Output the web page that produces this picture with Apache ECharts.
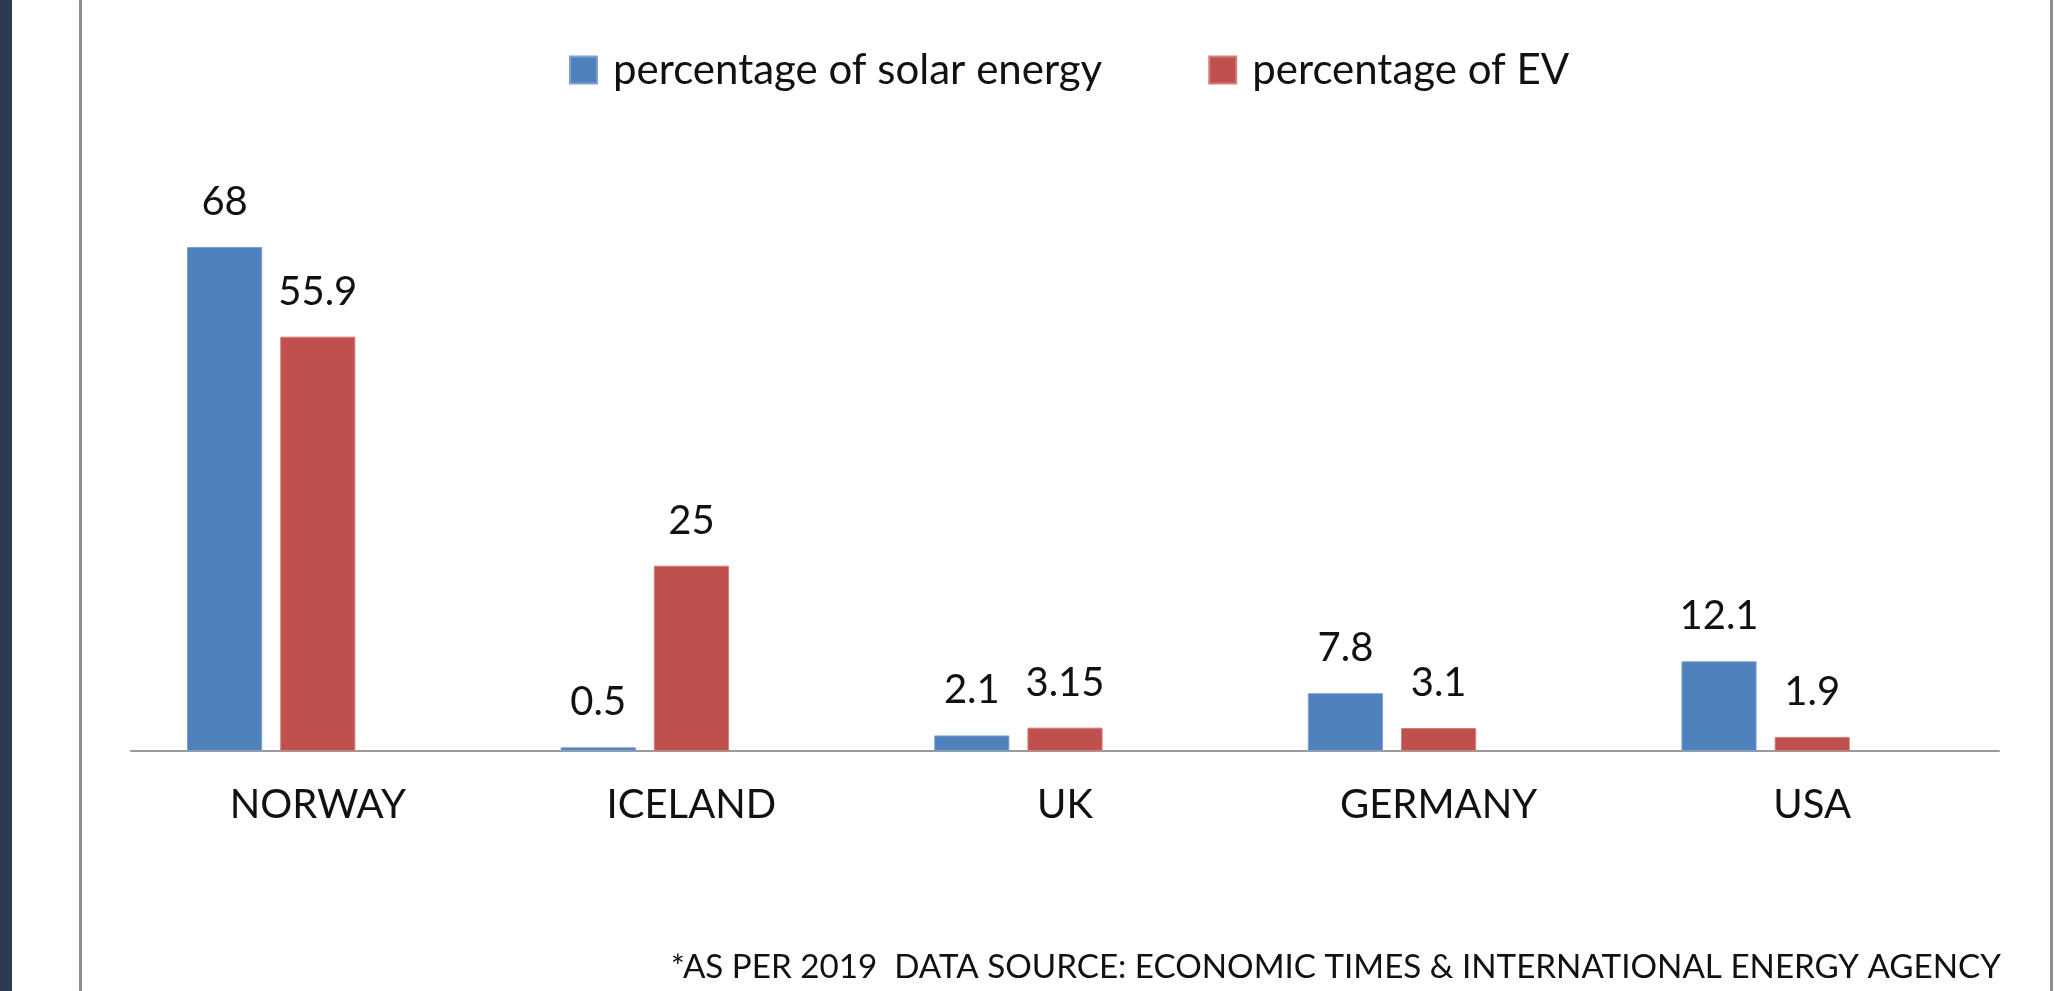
<!DOCTYPE html>
<html>
<head>
<meta charset="utf-8">
<script src="https://cdn.jsdelivr.net/npm/echarts@6/dist/echarts.min.js"></script>
<style>
  html, body { margin: 0; padding: 0; background: #fff; }
  #frame-dark { position: absolute; left: 0; top: 0; width: 12px; height: 991px; background: #2d3b52; }
  #frame-left { position: absolute; left: 79px; top: 0; width: 3px; height: 991px; background: #8e8e8e; }
  #frame-right { position: absolute; left: 2050px; top: 0; width: 3px; height: 991px; background: #8e8e8e; }
  #chart { position: absolute; left: 0; top: 0; width: 2055px; height: 991px; }
</style>
</head>
<body>
<div id="frame-dark"></div>
<div id="frame-left"></div>
<div id="frame-right"></div>
<div id="chart"></div>
<script>
const categories = ['NORWAY', 'ICELAND', 'UK', 'GERMANY', 'USA'];
const solarValues = [68, 0.5, 2.1, 7.8, 12.1];
const evValues = [55.9, 25, 3.15, 3.1, 1.9];
const spacerValues = []; // empty third slot (reserved space in each group, as in the original)
const seriesNames = ['percentage of solar energy', 'percentage of EV'];
const footnote = '*AS PER 2019  DATA SOURCE: ECONOMIC TIMES & INTERNATIONAL ENERGY AGENCY';

const FONT = 'Lato, "Open Sans", sans-serif';
const chart = echarts.init(document.getElementById('chart'), null, { renderer: 'canvas' });

const labelCfg = {
  show: true,
  position: 'top',
  distance: 25,
  color: '#111',
  fontFamily: FONT,
  fontSize: 40,
  lineHeight: 40
};

chart.setOption({
  animation: false,
  backgroundColor: 'transparent',
  legend: {
    data: seriesNames,
    left: 564,
    top: 44,
    icon: 'rect',
    itemWidth: 27,
    itemHeight: 27,
    itemGap: 106,
    textStyle: { fontFamily: FONT, fontSize: 42, color: '#111', padding: [0, 0, 0, 11] }
  },
  grid: { left: 131, right: 56, top: 158, bottom: 240, containLabel: false },
  xAxis: {
    type: 'category',
    data: categories,
    axisLine: { show: true, lineStyle: { color: '#9a9a9a', width: 2 } },
    axisTick: { show: false },
    axisLabel: { color: '#111', fontFamily: FONT, fontSize: 40, lineHeight: 40, margin: 34 },
    splitLine: { show: false }
  },
  yAxis: {
    type: 'value',
    min: 0,
    max: 80,
    show: false,
    splitLine: { show: false }
  },
  series: [
    {
      name: seriesNames[0],
      type: 'bar',
      data: solarValues,
      barGap: '24%',
      barCategoryGap: '30%',
      itemStyle: { color: '#4f81bd', borderColor: '#7ea1cf', borderWidth: 1 },
      label: labelCfg
    },
    {
      name: seriesNames[1],
      type: 'bar',
      data: evValues,
      barGap: '24%',
      barCategoryGap: '30%',
      itemStyle: { color: '#c0504d', borderColor: '#d27f7d', borderWidth: 1 },
      label: labelCfg
    },
    {
      name: 'spacer',
      type: 'bar',
      data: spacerValues,
      barGap: '24%',
      barCategoryGap: '30%',
      itemStyle: { color: 'transparent' },
      silent: true
    }
  ],
  graphic: [
    {
      type: 'text',
      x: 2001,
      y: 967,
      style: {
        text: footnote,
        fill: '#111',
        font: '33.2px ' + FONT,
        textAlign: 'right',
        textVerticalAlign: 'middle'
      }
    }
  ]
});
</script>
</body>
</html>
